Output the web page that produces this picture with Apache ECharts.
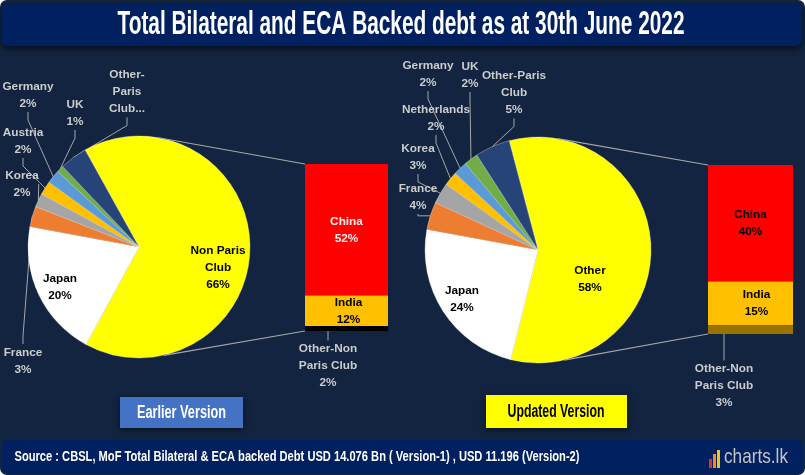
<!DOCTYPE html>
<html><head><meta charset="utf-8">
<script src="https://cdn.jsdelivr.net/npm/echarts@6/dist/echarts.min.js"></script>
<style>html,body{margin:0;padding:0;background:#ffffff}#c{width:805px;height:475px}</style>
</head><body><div id="c"></div>
<script>
// ---------------- data ----------------
const titleText = 'Total Bilateral and ECA Backed debt as at 30th June 2022';
const sourceText = 'Source : CBSL, MoF Total Bilateral & ECA backed Debt USD 14.076 Bn ( Version-1) , USD 11.196 (Version-2)';
const leftButtonText = 'Earlier Version';
const rightButtonText = 'Updated Version';

const leftPieNames = ['Non Paris Club', 'Japan', 'France', 'Korea', 'Austria', 'Germany', 'UK', 'Other-Paris Club'];
const leftPieLabels = ['Non Paris\nClub', 'Japan', 'France', 'Korea', 'Austria', 'Germany', 'UK', 'Other-\nParis\nClub...'];
const leftPieValues = [66, 20, 3, 2, 2, 2, 1, 4];

const rightPieNames = ['Other', 'Japan', 'France', 'Korea', 'Netherlands', 'Germany', 'UK', 'Other-Paris Club'];
const rightPieLabels = ['Other', 'Japan', 'France', 'Korea', 'Netherlands', 'Germany', 'UK', 'Other-Paris\nClub'];
const rightPieValues = [58, 24, 4, 3, 2, 2, 2, 5];

const barNames = ['China', 'India', 'Other-Non Paris Club'];
const barLabels = ['China', 'India', 'Other-Non\nParis Club'];
const leftBarValues = [52, 12, 2];
const rightBarValues = [40, 15, 3];

// ---------------- styles / layout ----------------
function measure(text, font) {
  const ctx = document.createElement('canvas').getContext('2d');
  ctx.font = font;
  return ctx.measureText(text).width;
}
const narrowOK = measure('Germany Netherlands', 'bold 100px "Liberation Sans Narrow", serif') <
  0.9 * measure('Germany Netherlands', 'bold 100px "Liberation Sans", serif');
const FONT = narrowOK ? '"Liberation Sans Narrow", sans-serif' : '"Liberation Sans", sans-serif';
const LABEL_SIZE = narrowOK ? 13.5 : 11.8;
const LABEL_LH = 17;

const pieColors = ['#FFFF00', '#FFFFFF', '#ED7D31', '#A5A5A5', '#FFC000', '#5B9BD5', '#70AD47', '#264478'];
const leftBarColors = ['#FF0000', '#FFC000', '#000000'];
const rightBarColors = ['#FF0000', '#FFC000', '#997300'];
const labelGray = '#cccccc';
const lineGray = '#a6a6a6';

const L = {cx: 139, cy: 247, r: 111, start: 119.05, barX: 305, barW: 83, barY: 164, barH: 167,
  labelPos: [[218, 268], [60, 287], [23, 361], [22, 184], [23, 141], [28, 95], [75, 113], [127, 92]],
  otherNonPos: [328, 366], chinaColor: '#f2f2f2', indiaOffset: [2, 0]};
const R = {cx: 538, cy: 250, r: 113, start: 104.8, barX: 708, barW: 85, barY: 165, barH: 169,
  labelPos: [[590, 279], [462, 299], [418, 197], [418, 157], [436, 118], [428, 74], [470, 75], [514, 93]],
  otherNonPos: [724, 386], chinaColor: '#000000', indiaOffset: [6, 0]};

function fitText(text, cx, cy, targetW, size, weight, color) {
  const font = weight + ' ' + size + 'px ' + FONT;
  const s = targetW / measure(text, font);
  return {type: 'text', x: cx, y: cy, scaleX: s, z: 20,
    style: {text: text, font: font, fill: color, align: 'center', verticalAlign: 'middle',
      textAlign: 'center', textVerticalAlign: 'middle'}};
}

function pieSeries(names, labels, values, cfg, insideCount) {
  return {
    type: 'pie', center: [cfg.cx, cfg.cy], radius: cfg.r, startAngle: cfg.start, clockwise: true,
    avoidLabelOverlap: false, silent: true,
    data: values.map((v, i) => ({
      name: names[i], value: v,
      itemStyle: {color: pieColors[i], borderColor: 'rgba(255,255,255,0.55)', borderWidth: 0.6},
      label: {color: i < insideCount ? '#000000' : labelGray},
      labelLine: {show: i >= insideCount}
    })),
    label: {
      show: true, position: 'outside', fontFamily: FONT, fontWeight: 'bold', fontSize: LABEL_SIZE, lineHeight: LABEL_LH,
      formatter: p => {
        const t = labels[p.dataIndex];
        return t.endsWith('...') ? t : t + '\n' + p.value + '%';
      }
    },
    labelLine: {show: true, length: 8, length2: 8, smooth: false, lineStyle: {color: lineGray, width: 1}},
    labelLayout: p => {
      const pos = cfg.labelPos[p.dataIndex];
      return {x: pos[0], y: pos[1], align: 'center', verticalAlign: 'middle'};
    }
  };
}

function barSeries(values, colors, cfg, g) {
  return values.map((v, i) => {
    const s = {
      type: 'bar', name: barNames[i], xAxisIndex: g, yAxisIndex: g, stack: 'bar' + g,
      barWidth: '100%', silent: true,
      data: [v], itemStyle: {color: colors[i]},
      label: {
        show: true, position: i === 2 ? 'bottom' : 'inside',
        color: i === 0 ? cfg.chinaColor : (i === 1 ? '#000000' : labelGray),
        offset: i === 1 ? cfg.indiaOffset : [0, 0],
        fontFamily: FONT, fontWeight: 'bold', fontSize: LABEL_SIZE, lineHeight: LABEL_LH,
        formatter: p => barLabels[i] + '\n' + p.value + '%'
      }
    };
    if (i === 2) {
      s.labelLine = {show: true, lineStyle: {color: lineGray, width: 1}};
      s.labelLayout = () => ({x: cfg.otherNonPos[0], y: cfg.otherNonPos[1], align: 'center', verticalAlign: 'middle'});
    }
    return s;
  });
}

function tangent(px, py, cfg, upper) {
  const dx = px - cfg.cx, dy = py - cfg.cy;
  const d = Math.sqrt(dx * dx + dy * dy);
  const th = Math.atan2(dy, dx);
  const a = Math.acos(cfg.r / d);
  const ang = upper ? th - a : th + a;
  return [cfg.cx + cfg.r * Math.cos(ang), cfg.cy + cfg.r * Math.sin(ang)];
}
function connectors(cfg) {
  const t1 = tangent(cfg.barX, cfg.barY, cfg, true);
  const t2 = tangent(cfg.barX, cfg.barY + cfg.barH, cfg, false);
  return [
    {type: 'line', z: 5, shape: {x1: t1[0], y1: t1[1], x2: cfg.barX, y2: cfg.barY}, style: {stroke: lineGray, lineWidth: 1.2}},
    {type: 'line', z: 5, shape: {x1: t2[0] + 6, y1: t2[1] - 1, x2: cfg.barX, y2: cfg.barY + cfg.barH}, style: {stroke: lineGray, lineWidth: 1.2}}
  ];
}

const sum = a => a.reduce((s, v) => s + v, 0);

const graphics = [
  {type: 'rect', z: -10, shape: {x: 0, y: 0, width: 805, height: 475, r: 7}, style: {fill: '#12243f'}},
  {type: 'rect', z: 1, shape: {x: 2, y: 3, width: 800, height: 43, r: 6},
    style: {fill: '#002060', shadowBlur: 6, shadowColor: 'rgba(0,0,0,0.6)', shadowOffsetY: 3}},
  fitText(titleText, 401, 25, 567, 33, 'bold', '#ffffff'),
  {type: 'rect', z: 1, shape: {x: 2, y: 440, width: 801, height: 34, r: 6}, style: {fill: '#002060'}},
  fitText(sourceText, 297, 457, 565, 14, 'bold', '#ffffff'),
  fitText('charts.lk', 756, 457, 64, 21, 'normal', '#c4c4c4'),
  {type: 'rect', z: 21, shape: {x: 709, y: 459, width: 3, height: 9}, style: {fill: '#e0302a'}},
  {type: 'rect', z: 21, shape: {x: 713, y: 454, width: 3, height: 14}, style: {fill: '#f08a24'}},
  {type: 'rect', z: 21, shape: {x: 717, y: 450, width: 3, height: 18}, style: {fill: '#f6c31c'}},
  {type: 'rect', z: 1, shape: {x: 120, y: 397, width: 123, height: 31},
    style: {fill: '#4472C4', shadowBlur: 6, shadowColor: 'rgba(0,0,0,0.5)', shadowOffsetY: 2}},
  fitText(leftButtonText, 181.5, 413, 89, 18, 'bold', '#ffffff'),
  {type: 'rect', z: 1, shape: {x: 486, y: 395, width: 141, height: 33},
    style: {fill: '#FFFF00', shadowBlur: 6, shadowColor: 'rgba(0,0,0,0.5)', shadowOffsetY: 2}},
  fitText(rightButtonText, 556, 412, 97, 18, 'bold', '#000000')
].concat(connectors(L), connectors(R));

const option = {
  animation: false,
  backgroundColor: 'transparent',
  grid: [
    {left: L.barX, top: L.barY, width: L.barW, height: L.barH},
    {left: R.barX, top: R.barY, width: R.barW, height: R.barH}
  ],
  xAxis: [
    {type: 'category', gridIndex: 0, data: [''], show: false},
    {type: 'category', gridIndex: 1, data: [''], show: false}
  ],
  yAxis: [
    {type: 'value', gridIndex: 0, min: 0, max: sum(leftBarValues), inverse: true, show: false},
    {type: 'value', gridIndex: 1, min: 0, max: sum(rightBarValues), inverse: true, show: false}
  ],
  graphic: graphics,
  series: [
    pieSeries(leftPieNames, leftPieLabels, leftPieValues, L, 2),
    pieSeries(rightPieNames, rightPieLabels, rightPieValues, R, 2)
  ].concat(barSeries(leftBarValues, leftBarColors, L, 0), barSeries(rightBarValues, rightBarColors, R, 1))
};

const chart = echarts.init(document.getElementById('c'));
chart.setOption(option);
</script>
</body></html>
